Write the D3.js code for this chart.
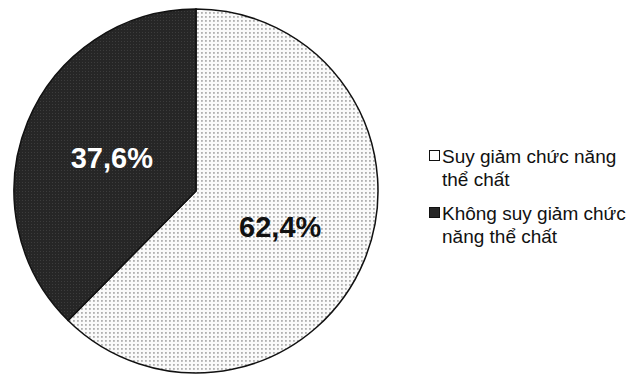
<!DOCTYPE html>
<html>
<head>
<meta charset="utf-8">
<script src="https://cdn.jsdelivr.net/npm/d3@7"></script>
<style>
  body { margin: 0; background: #fff; }
  svg { display: block; font-family: "Liberation Sans", Arial, sans-serif; }
</style>
</head>
<body>
<div id="chart"></div>
<script>
// data
const categories = ["Suy giảm chức năng thể chất", "Không suy giảm chức năng thể chất"];
const legendLines = [["Suy giảm chức năng", "thể chất"], ["Không suy giảm chức", "năng thể chất"]];
const values = [62.4, 37.6];
const labels = ["62,4%", "37,6%"];

const width = 636, height = 377;
const cx = 196, cy = 191, radius = 182;

const svg = d3.select("#chart").append("svg")
  .attr("width", width).attr("height", height);

// fill patterns: light dots and dark grid
const defs = svg.append("defs");
const light = defs.append("pattern").attr("id", "dots")
  .attr("patternUnits", "userSpaceOnUse").attr("width", 4).attr("height", 4);
light.append("rect").attr("width", 4).attr("height", 4).attr("fill", "#fafafa");
light.append("rect").attr("x", 1).attr("y", 1).attr("width", 1.8).attr("height", 1.8).attr("fill", "#b0b0b0");

const dark = defs.append("pattern").attr("id", "dark")
  .attr("patternUnits", "userSpaceOnUse").attr("width", 3).attr("height", 3);
dark.append("rect").attr("width", 3).attr("height", 3).attr("fill", "#262626");
dark.append("rect").attr("width", 1).attr("height", 1).attr("fill", "#3c3c3c");

const fills = ["url(#dots)", "url(#dark)"];

const pie = d3.pie().sort(null).value(d => d);
const arc = d3.arc().innerRadius(0).outerRadius(radius);
const labelArc = d3.arc().innerRadius(radius * 0.5).outerRadius(radius * 0.5);

const g = svg.append("g").attr("transform", `translate(${cx},${cy})`);
const arcs = pie(values);

g.selectAll(".slice")
  .data(arcs)
  .enter().append("path")
  .attr("class", "slice")
  .attr("d", arc)
  .attr("fill", (d, i) => fills[i])
  .attr("stroke", "#111")
  .attr("stroke-width", 1.5);

g.selectAll(".lbl")
  .data(arcs)
  .enter().append("text")
  .attr("class", "lbl")
  .attr("transform", (d, i) => {
    const c = labelArc.centroid(d);
    return `translate(${c[0]},${c[1]})`;
  })
  .attr("text-anchor", "middle")
  .attr("dy", "0.4em")
  .attr("font-size", "29px")
  .attr("font-weight", "bold")
  .attr("fill", (d, i) => i === 0 ? "#111" : "#fff")
  .text((d, i) => labels[i]);

// LEGEND
const legend = svg.append("g").attr("transform", "translate(429,149)");
const items = legend.selectAll(".item")
  .data(categories)
  .enter().append("g")
  .attr("class", "item")
  .attr("transform", (d, i) => `translate(0,${i * 57})`);

items.append("rect")
  .attr("x", 0.5).attr("y", 1.5)
  .attr("width", 10).attr("height", 10)
  .attr("fill", (d, i) => i === 0 ? "#fff" : "#262626")
  .attr("stroke", "#111").attr("stroke-width", 1);

items.each(function (d, i) {
  const t = d3.select(this).append("text")
    .attr("font-size", "19px")
    .attr("fill", "#111");
  legendLines[i].forEach((line, j) => {
    t.append("tspan").attr("x", 13).attr("y", 14 + j * 23).text(line);
  });
});
</script>
</body>
</html>
